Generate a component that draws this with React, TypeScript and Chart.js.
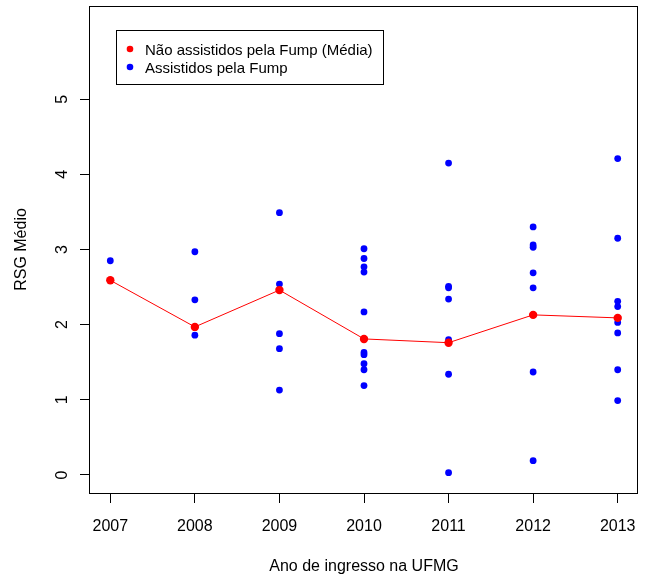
import React, { useEffect, useRef } from "react";
import { Chart, registerables } from "chart.js";

Chart.register(...registerables);

const years = [2007, 2008, 2009, 2010, 2011, 2012, 2013];
const yTickValues = [0, 1, 2, 3, 4, 5];
const meanNotAssisted = [2.59, 1.97, 2.46, 1.81, 1.76, 2.13, 2.09];

const assisted2007 = [2.85];
const assisted2008 = [2.97, 2.33, 1.86];
const assisted2009 = [3.49, 2.54, 1.88, 1.68, 1.13];
const assisted2010 = [3.01, 2.88, 2.77, 2.7, 2.17, 1.63, 1.6, 1.48, 1.4, 1.19];
const assisted2011 = [4.15, 2.51, 2.49, 2.34, 1.8, 1.34, 0.03];
const assisted2012 = [3.3, 3.06, 3.03, 2.69, 2.49, 1.37, 0.19];
const assisted2013 = [4.21, 3.15, 2.31, 2.24, 2.03, 1.89, 1.4, 0.99];

const assistedByYear = [
  assisted2007,
  assisted2008,
  assisted2009,
  assisted2010,
  assisted2011,
  assisted2012,
  assisted2013,
];

const labelMean = "Não assistidos pela Fump (Média)";
const labelAssisted = "Assistidos pela Fump";
const xTitle = "Ano de ingresso na UFMG";
const yTitle = "RSG Médio";

const FONT = '"Liberation Sans", Arial, Helvetica, sans-serif';

const boxPlugin = {
  id: "rbox",
  afterDraw(chart: any) {
    const { ctx, chartArea: a } = chart;
    ctx.save();
    ctx.strokeStyle = "#000";
    ctx.lineWidth = 1;
    ctx.strokeRect(
      Math.round(a.left) - 0.5,
      Math.round(a.top) + 0.5,
      Math.round(a.right - a.left),
      Math.round(a.bottom - a.top)
    );
    // legend
    const lx = 116.5, ly = 30.5, lw = 267, lh = 54;
    ctx.fillStyle = "#fff";
    ctx.fillRect(lx, ly, lw, lh);
    ctx.strokeRect(lx, ly, lw, lh);
    const ds = chart.data.datasets;
    const rows = [49, 67];
    ds.forEach((d: any, i: number) => {
      const y = rows[i];
      ctx.beginPath();
      ctx.fillStyle = d.pointBackgroundColor;
      ctx.arc(130, y, 3.3, 0, Math.PI * 2);
      ctx.fill();
      ctx.fillStyle = "#000";
      ctx.font = `15px ${FONT}`;
      ctx.textBaseline = "middle";
      ctx.textAlign = "left";
      ctx.fillText(d.label, 145, y + 1.5);
    });
    ctx.restore();
  },
};

export default function App() {
  const ref = useRef<HTMLCanvasElement | null>(null);
  useEffect(() => {
    if (!ref.current) return;
    const meanPoints = years.map((y, i) => ({ x: y, y: meanNotAssisted[i] }));
    const assistedPoints: { x: number; y: number }[] = [];
    assistedByYear.forEach((vals, i) => {
      vals.forEach((v) => assistedPoints.push({ x: years[i], y: v }));
    });
    const chart = new Chart(ref.current, {
      type: "scatter",
      data: {
        datasets: [
          {
            label: labelMean,
            data: meanPoints,
            showLine: true,
            borderColor: "#ff0000",
            borderWidth: 1,
            pointRadius: 4.2,
            pointBackgroundColor: "#ff0000",
            pointBorderWidth: 0,
          } as any,
          {
            label: labelAssisted,
            data: assistedPoints,
            showLine: false,
            pointRadius: 3.4,
            pointBackgroundColor: "#0000ff",
            pointBorderWidth: 0,
            borderColor: "#0000ff",
          } as any,
        ],
      },
      options: {
        responsive: false,
        animation: false,
        layout: { padding: { left: 0, right: 10, top: 6, bottom: 0 } },
        plugins: { legend: { display: false }, tooltip: { enabled: false } },
        scales: {
          x: {
            type: "linear",
            position: "bottom",
            min: 2006.76,
            max: 2013.24,
            afterBuildTicks: (s: any) => {
              s.ticks = years.map((v) => ({ value: v }));
            },
            afterFit: (s: any) => {
              s.height = 89;
              s.paddingLeft = 0;
              s.paddingRight = 0;
              s.paddingTop = 0;
              s.paddingBottom = 0;
            },
            border: { display: false },
            grid: {
              display: true,
              drawOnChartArea: false,
              drawTicks: true,
              tickLength: 10,
              color: "#000",
            },
            ticks: {
              autoSkip: false,
              maxRotation: 0,
              padding: 14,
              color: "#000",
              font: { family: FONT, size: 16 },
              callback: (v: any) => String(v),
            },
            title: {
              display: true,
              text: xTitle,
              color: "#000",
              font: { family: FONT, size: 16 },
              padding: { top: 0, bottom: 6 },
            },
          },
          y: {
            type: "linear",
            position: "left",
            min: -0.24,
            max: 6.24,
            afterBuildTicks: (s: any) => {
              s.ticks = yTickValues.map((v) => ({ value: v }));
            },
            afterFit: (s: any) => {
              s.width = 90;
              s.paddingLeft = 0;
              s.paddingRight = 0;
              s.paddingTop = 0;
              s.paddingBottom = 0;
            },
            border: { display: false },
            grid: {
              display: true,
              drawOnChartArea: false,
              drawTicks: true,
              tickLength: 10,
              color: "#000",
            },
            ticks: {
              autoSkip: false,
              minRotation: 90,
              maxRotation: 90,
              crossAlign: "center",
              padding: 13,
              color: "#000",
              font: { family: FONT, size: 16 },
              callback: (v: any) => String(v),
            },
            title: {
              display: true,
              text: yTitle,
              color: "#000",
              font: { family: FONT, size: 16 },
              padding: { top: 12, bottom: 0 },
            },
          },
        },
      },
      plugins: [boxPlugin],
    });
    return () => chart.destroy();
  }, []);
  return (
    <div style={{ position: "absolute", left: 0, top: 0, width: 648, height: 582, background: "#fff" }}>
      <canvas ref={ref} width={648} height={582} />
    </div>
  );
}
